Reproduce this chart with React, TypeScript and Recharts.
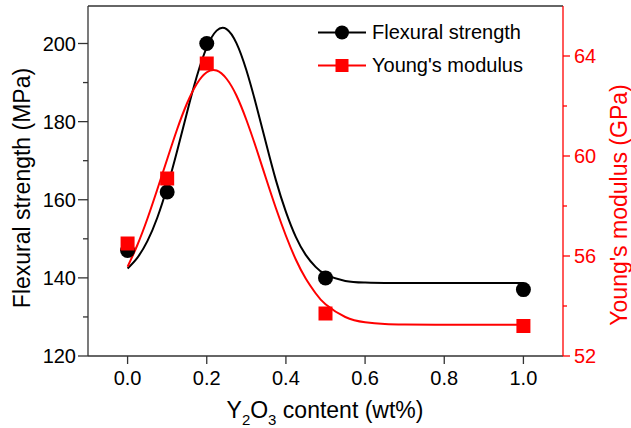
import React from "react"
import { ComposedChart, Line, Scatter, XAxis, YAxis, ReferenceLine, Legend } from "recharts"

// measured samples
const contents = [0, 0.1, 0.2, 0.5, 1.0]
const flexural = [147, 162, 200, 140, 137]
const youngs = [56.5, 59.1, 63.7, 53.7, 53.2]

// fitted curves
const fitX = [0, 0.025, 0.05, 0.075, 0.1, 0.125, 0.15, 0.175, 0.2, 0.225, 0.25, 0.275, 0.3, 0.325, 0.35, 0.375, 0.4, 0.425, 0.45, 0.475, 0.5, 0.55, 0.6, 0.65, 0.7, 0.8, 0.9, 1.0]
const flexFit = [142.4, 145.2, 149.4, 155.4, 163.2, 172.4, 182.3, 191.6, 199.0, 203.3, 203.7, 200.1, 193.2, 184.2, 174.4, 164.9, 156.9, 150.5, 145.9, 142.8, 140.9, 139.2, 138.8, 138.7, 138.7, 138.7, 138.7, 138.7]
const youngFit = [55.57, 56.45, 57.49, 58.66, 59.87, 61.06, 62.1, 62.89, 63.35, 63.42, 63.09, 62.42, 61.45, 60.31, 59.09, 57.9, 56.81, 55.86, 55.1, 54.51, 54.07, 53.56, 53.35, 53.28, 53.26, 53.25, 53.25, 53.25]

const xTicks = [0, 0.2, 0.4, 0.6, 0.8, 1.0]
const leftTicks = [120, 130, 140, 150, 160, 170, 180, 190, 200]
const leftMajor = [120, 140, 160, 180, 200]
const rightTicks = [52, 54, 56, 58, 60, 62, 64]
const rightMajor = [52, 56, 60, 64]

const X_DOMAIN = [-0.1, 1.1]
const LEFT_DOMAIN = [120, 209.6]
const RIGHT_DOMAIN = [52, 66]

const FONT = "'Liberation Sans', Arial, sans-serif"
const AXIS = "#333"
const RED = "#ff0000"

const flexPoints = contents.map((x, i) => ({ x, y: flexural[i] }))
const youngPoints = contents.map((x, i) => ({ x, y: youngs[i] }))
const flexCurve = fitX.map((x, i) => ({ x, y: flexFit[i] }))
const youngCurve = fitX.map((x, i) => ({ x, y: youngFit[i] }))

const BottomTick = (props: any) => {
  const { x, y, payload } = props
  return (
    <g>
      <line x1={x} x2={x} y1={y} y2={y + 8} stroke={AXIS} strokeWidth={1.3} />
      <text x={x} y={y + 29} textAnchor="middle" fontSize={20} fontFamily={FONT} fill="#000">
        {payload.value.toFixed(1)}
      </text>
    </g>
  )
}

const LeftTick = (props: any) => {
  const { x, y, payload } = props
  const major = leftMajor.includes(payload.value)
  return (
    <g>
      <line x1={x - (major ? 10 : 5)} x2={x} y1={y} y2={y} stroke={AXIS} strokeWidth={1.3} />
      {major && (
        <text x={x - 12} y={y + 7} textAnchor="end" fontSize={20} fontFamily={FONT} fill="#000">
          {payload.value}
        </text>
      )}
    </g>
  )
}

const RightTick = (props: any) => {
  const { x, y, payload } = props
  const major = rightMajor.includes(payload.value)
  return (
    <g>
      <line x1={x} x2={x + (major ? 7 : 4)} y1={y} y2={y} stroke={RED} strokeWidth={1.3} />
      {major && (
        <text x={x + 11} y={y + 7} textAnchor="start" fontSize={20} fontFamily={FONT} fill={RED}>
          {payload.value}
        </text>
      )}
    </g>
  )
}

const Dot = (p: any) => <circle cx={p.cx} cy={p.cy} r={7.5} fill="#000" />
const Sq = (p: any) => <rect x={p.cx - 7} y={p.cy - 7} width={14} height={14} fill={RED} />

const LegendBox = () => (
  <div style={{ fontFamily: FONT, fontSize: 20, lineHeight: "33px" }}>
    <div style={{ display: "flex", alignItems: "center" }}>
      <svg width={54} height={33}>
        <line x1={0} x2={48} y1={16.5} y2={16.5} stroke="#000" strokeWidth={2} />
        <circle cx={24} cy={16.5} r={7} fill="#000" />
      </svg>
      <span>Flexural strength</span>
    </div>
    <div style={{ display: "flex", alignItems: "center" }}>
      <svg width={54} height={33}>
        <line x1={0} x2={48} y1={16.5} y2={16.5} stroke={RED} strokeWidth={2} />
        <rect x={17.5} y={10} width={13} height={13} fill={RED} />
      </svg>
      <span>Young's modulus</span>
    </div>
  </div>
)

export default function App() {
  return (
    <div style={{ position: "absolute", left: 0, top: 0, width: 631, height: 428, background: "#fff" }}>
      <ComposedChart width={631} height={428} margin={{ top: 6, right: 0, bottom: 0, left: 0 }}>
        <XAxis
          type="number"
          dataKey="x"
          domain={X_DOMAIN}
          ticks={xTicks}
          interval={0}
          allowDataOverflow
          height={72}
          tickSize={0}
          tickMargin={0}
          tickLine={false}
          tick={<BottomTick />}
          axisLine={{ stroke: AXIS, strokeWidth: 1.3 }}
          label={{
            content: () => (
              <text x={325} y={418} textAnchor="middle" fontSize={23} fontFamily={FONT} fill="#000">
                Y<tspan fontSize={15} dy={7}>2</tspan>
                <tspan dy={-7}>O</tspan>
                <tspan fontSize={15} dy={7}>3</tspan>
                <tspan dy={-7}> content (wt%)</tspan>
              </text>
            ),
          }}
        />
        <YAxis
          yAxisId="left"
          type="number"
          dataKey="y"
          domain={LEFT_DOMAIN}
          ticks={leftTicks}
          interval={0}
          allowDataOverflow
          width={88}
          tickSize={0}
          tickMargin={0}
          tickLine={false}
          tick={<LeftTick />}
          axisLine={{ stroke: AXIS, strokeWidth: 1.3 }}
          label={{
            content: () => (
              <text
                x={22}
                y={188}
                transform="rotate(-90 22 188)"
                textAnchor="middle"
                dominantBaseline="central"
                fontSize={23}
                fontFamily={FONT}
                fill="#000"
              >
                Flexural strength (MPa)
              </text>
            ),
          }}
        />
        <YAxis
          yAxisId="right"
          orientation="right"
          type="number"
          dataKey="y"
          domain={RIGHT_DOMAIN}
          ticks={rightTicks}
          interval={0}
          allowDataOverflow
          width={68}
          tickSize={0}
          tickMargin={0}
          tickLine={false}
          tick={<RightTick />}
          axisLine={{ stroke: RED, strokeWidth: 1.3 }}
          label={{
            content: () => (
              <text
                x={619}
                y={205}
                transform="rotate(-90 619 205)"
                textAnchor="middle"
                dominantBaseline="central"
                fontSize={23}
                fontFamily={FONT}
                fill={RED}
              >
                Young's modulus (GPa)
              </text>
            ),
          }}
        />
        <ReferenceLine yAxisId="left" y={LEFT_DOMAIN[1]} stroke={AXIS} strokeWidth={1.3} />
        <Line
          yAxisId="left"
          data={flexCurve}
          dataKey="y"
          type="natural"
          stroke="#000"
          strokeWidth={2}
          dot={false}
          activeDot={false}
          isAnimationActive={false}
        />
        <Line
          yAxisId="right"
          data={youngCurve}
          dataKey="y"
          type="natural"
          stroke={RED}
          strokeWidth={2}
          dot={false}
          activeDot={false}
          isAnimationActive={false}
        />
        <Scatter yAxisId="left" data={flexPoints} shape={<Dot />} isAnimationActive={false} />
        <Scatter yAxisId="right" data={youngPoints} shape={<Sq />} isAnimationActive={false} />
        <Legend
          layout="vertical"
          align="center"
          verticalAlign="middle"
          wrapperStyle={{ left: 318, top: 16, width: 240 }}
          content={() => <LegendBox />}
        />
      </ComposedChart>
    </div>
  )
}
